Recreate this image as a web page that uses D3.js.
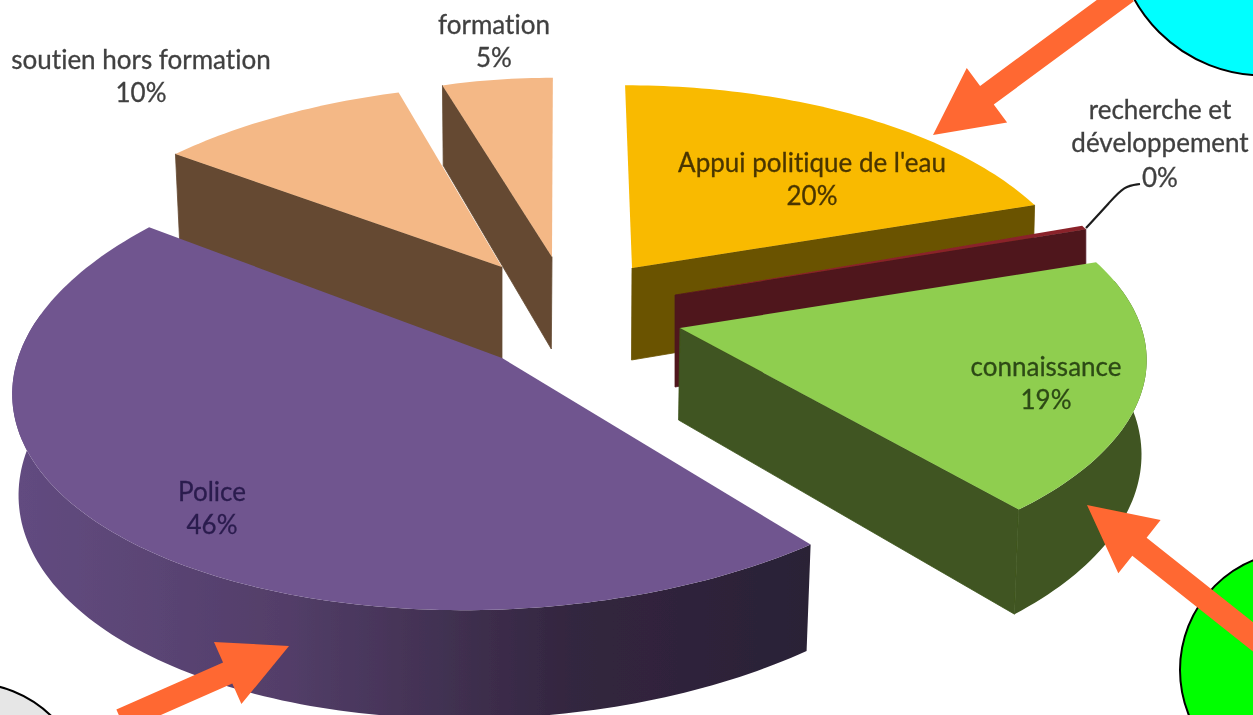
<!DOCTYPE html>
<html><head><meta charset="utf-8">
<script src="https://cdn.jsdelivr.net/npm/d3@7/dist/d3.min.js"></script>
<style>html,body{margin:0;padding:0;background:#fff;overflow:hidden}svg{display:block}text{font-family:Lato,Carlito,sans-serif;font-variant-ligatures:none}</style>
</head><body><svg id="c" width="1253" height="715"></svg>
<script>
// Data
const categories = ["Appui politique de l'eau","recherche et développement","connaissance","Police","soutien hors formation","formation"];
const values = [20, 0.3, 19, 46, 10, 5];
const topColors = ["#f9ba03","#8a2229","#8fce50","#70558f","#f4b886","#f4b886"];
const wallColors = ["#6b5300","#4f181d","#3f5520","url(#policeWall)","#654a32","#654a32"];
const textColors = ["#4a3600","#404040","#2d4a14","#2b1c4e","#404040","#404040"];
// Layout of each exploded slice (apex position, ellipse radii, perspective)
const geom = [
 {cx:632,cy:268,rx:447,ry:211,k:.155,sk:-8,t:0,lean:.004,da0:0},
 {cx:675,cy:295,rx:452,ry:211,k:.155,sk:-8,t:-7,lean:0,da0:0},
 {cx:680,cy:328,rx:459,ry:211,k:.155,sk:-12,t:-7,lean:.008,da0:0},
 {cx:502,cy:358,rx:484,ry:232,k:.08,sk:36,t:0,lean:.013,da0:-2},
 {cx:502,cy:267,rx:459,ry:211,k:.155,sk:24,t:-1.5,lean:.013,da0:0},
 {cx:552,cy:257,rx:411,ry:207,k:.155,sk:1,t:0,lean:.013,da0:0}
];
const depth = [92,92,92,100,96,92];
const labelPos = [[812,[163,196]],[1160,[110,143,178]],[1046,[367,400]],[212,[492,525]],[141,[60,93]],[494,[25,58]]];
const labelLines = [["Appui politique de l'eau"],["recherche et","développement"],["connaissance"],["Police"],["soutien hors formation"],["formation"]];
const circles = [
 {cx:1264,cy:-73,r:148.5,fill:"#00ffff"},
 {cx:1299,cy:670,r:119,fill:"#00ff00"},
 {cx:-30,cy:800,r:117,fill:"#e6e6e6"}
];
const arrows = [
 {from:[1127,-8],to:[933,135]},
 {from:[1262,644],to:[1087,505]},
 {from:[121,720],to:[289,646]}
];
const leader = [[1086,228],[1110,202],[1124,186],[1140,184]];

const svg = d3.select("#c");
const defs = svg.append("defs");
const lg = defs.append("linearGradient").attr("id","policeWall")
  .attr("gradientUnits","userSpaceOnUse").attr("x1",20).attr("x2",810).attr("y1",0).attr("y2",0);
[[0,"#624b80"],[.33,"#533e69"],[.7,"#33263f"],[1,"#2a2036"]].forEach(d=>lg.append("stop").attr("offset",d[0]).attr("stop-color",d[1]));
defs.append("filter").attr("id","soft").attr("filterUnits","userSpaceOnUse").attr("x",0).attr("y",0).attr("width",1253).attr("height",715)
  .append("feGaussianBlur").attr("stdDeviation",0.55);
const root = svg.append("g").attr("filter","url(#soft)");

const pie = d3.pie().sort(null).startAngle(0).endAngle(2*Math.PI);
const arcs = pie(values);
const vx = 500;
function proj(g,a,r,z){
  const sn=Math.sin(a)*r, c=Math.cos(a)*r, s=1/(1+g.k*c);
  let x=g.cx+s*(g.rx*sn+g.sk*c), y=g.cy+s*(-g.ry*c+g.t*sn);
  if(z){ y+=z*s; x+=(vx-x)*g.lean; }
  return [x,y];
}
const line=d3.line();
const sample=(a0,a1)=>{const n=Math.max(2,Math.ceil((a1-a0)/0.02));return d3.range(n+1).map(i=>a0+(a1-a0)*i/n);};

circles.forEach(c=>root.append("circle").attr("cx",c.cx).attr("cy",c.cy).attr("r",c.r).attr("fill",c.fill).attr("stroke","#000").attr("stroke-width",2));

const order=[5,4,0,1,2,3];
order.forEach(i=>{
  const d=arcs[i], g=geom[i], z=depth[i], a0=d.startAngle+g.da0*Math.PI/180, a1=d.endAngle;
  const G=root.append("g").attr("class","slice");
  // cut faces that look towards the viewer
  [[a0,a0-Math.PI/2],[a1,a1+Math.PI/2]].forEach(([a,n])=>{
    if(Math.cos(n)<-1e-6){
      const pts=[proj(g,0,0,0),proj(g,a,1,0),proj(g,a,1,z),proj(g,0,0,z)];
      G.append("path").attr("d",line(pts)+"Z").attr("fill",wallColors[i]).attr("stroke",wallColors[i]).attr("stroke-width",0.8);
    }
  });
  // outer wall, front-facing part only
  const vis=sample(a0,a1).filter(a=>Math.cos(a)<0.2);
  if(vis.length>1){
    const pts=vis.map(a=>proj(g,a,1,0)).concat(vis.slice().reverse().map(a=>proj(g,a,1,z)));
    G.append("path").attr("d",line(pts)+"Z").attr("fill",wallColors[i]);
  }
  // top face
  const top=[proj(g,0,0,0)].concat(sample(a0,a1).map(a=>proj(g,a,1,0)));
  G.append("path").attr("d",line(top)+"Z").attr("fill",topColors[i]);
});

// leader line of the thin slice
root.append("path").attr("d",d3.line().curve(d3.curveBasis)(leader)).attr("fill","none").attr("stroke","#1f1f1f").attr("stroke-width",2.2);

// arrows
function arrowPts(a){
  const [x0,y0]=a.from,[x1,y1]=a.to,L=Math.hypot(x1-x0,y1-y0),ux=(x1-x0)/L,uy=(y1-y0)/L,nx=-uy,ny=ux;
  const hl=67,hw=34,sw=11.5,bx=x1-ux*hl,by=y1-uy*hl;
  return [[x0+nx*sw,y0+ny*sw],[bx+nx*sw,by+ny*sw],[bx+nx*hw,by+ny*hw],[x1,y1],[bx-nx*hw,by-ny*hw],[bx-nx*sw,by-ny*sw],[x0-nx*sw,y0-ny*sw]];
}
root.selectAll("path.arrow").data(arrows).enter().append("path").attr("class","arrow")
  .attr("d",a=>line(arrowPts(a))+"Z").attr("fill","#ff6830");

// labels
const pct=d3.format(".0%"), total=d3.sum(values);
categories.forEach((cat,i)=>{
  const [x,ys]=labelPos[i];
  const t=labelLines[i].concat([pct(values[i]/total)]);
  t.forEach((s,j)=>root.append("text").attr("x",x).attr("y",ys[j]).attr("dy","0.35em").attr("text-anchor","middle")
    .attr("font-size",26).attr("fill",textColors[i]).attr("stroke",textColors[i]).attr("stroke-width",0.3).text(s));
});
</script></body></html>
